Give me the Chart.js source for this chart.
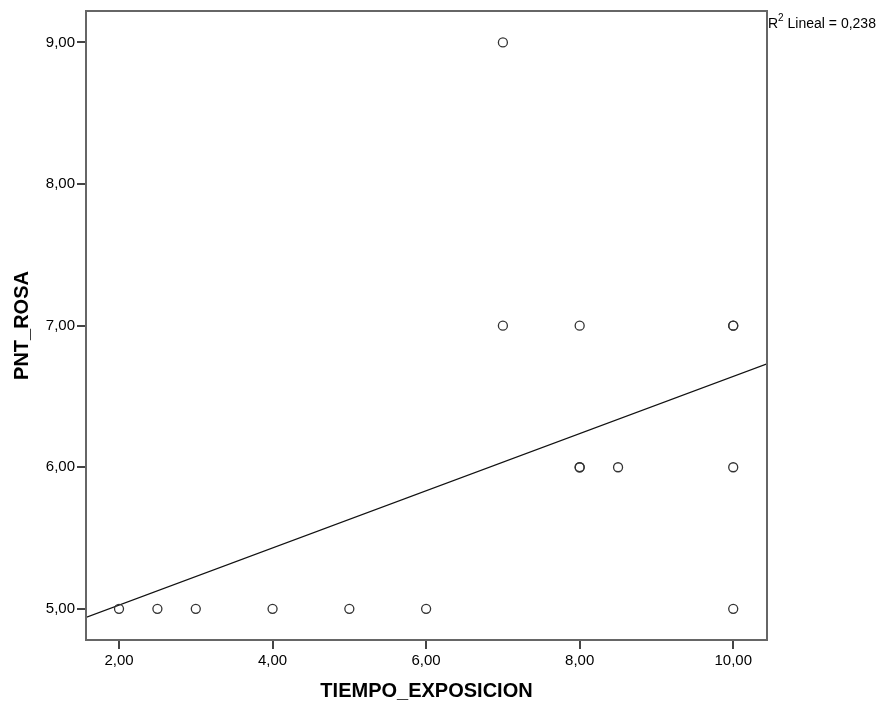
<!DOCTYPE html>
<html>
<head>
<meta charset="utf-8">
<script src="https://cdn.jsdelivr.net/npm/chart.js@4.4.1/dist/chart.umd.min.js"></script>
<style>
  html, body { margin: 0; padding: 0; background: #fff; }
  #wrap { width: 891px; height: 709px; }
</style>
</head>
<body>
<div id="wrap"><canvas id="chart" width="891" height="709"></canvas></div>
<script>
// observations (duplicates at 8/6 and 10/7 show up as darker rings)
const tiempo = [2, 2.5, 3, 4, 5, 6, 7, 7, 8, 8, 8, 8.5, 10, 10, 10, 10];
const pntRosa = [5, 5, 5, 5, 5, 5, 9, 7, 7, 6, 6, 6, 7, 7, 6, 5];

// fit line end points
const fitX = [1.57, 10.44];
const fitY = [4.94, 6.73];

const xTicks = [2, 4, 6, 8, 10];
const yTicks = [5, 6, 7, 8, 9];
const r2Label = '0,238';

const fmt = v => v.toFixed(2).replace('.', ',');
const font = 'Arial, "Liberation Sans", sans-serif';

const points = tiempo.map((x, i) => ({x: x, y: pntRosa[i]}));
const fitPoints = fitX.map((x, i) => ({x: x, y: fitY[i]}));

const framePlugin = {
    id: 'frame',
    afterDraw(chart) {
        const {ctx, chartArea: a} = chart;
        ctx.save();
        ctx.strokeStyle = '#666';
        ctx.lineWidth = 2;
        ctx.strokeRect(a.left, a.top, a.right - a.left, a.bottom - a.top);

        // R2 label at the top right
        ctx.fillStyle = '#000';
        ctx.textBaseline = 'alphabetic';
        ctx.textAlign = 'left';
        let x = a.right + 1;
        ctx.font = '14px ' + font;
        ctx.fillText('R', x, 28);
        x += ctx.measureText('R').width;
        ctx.font = '10px ' + font;
        ctx.fillText('2', x, 21);
        x += ctx.measureText('2').width;
        ctx.font = '14px ' + font;
        ctx.fillText(' Lineal = ' + r2Label, x, 28);
        ctx.restore();
    }
};

new Chart(document.getElementById('chart'), {
    type: 'scatter',
    data: {
        datasets: [{
            data: points,
            pointRadius: 4.5,
            pointHoverRadius: 4.5,
            pointBorderWidth: 1.3,
            pointBorderColor: '#333',
            pointBackgroundColor: 'rgba(255,255,255,0)',
            order: 1
        }, {
            type: 'line',
            data: fitPoints,
            borderColor: '#111',
            borderWidth: 1.2,
            pointRadius: 0,
            fill: false,
            order: 2
        }]
    },
    options: {
        responsive: false,
        animation: false,
        layout: { padding: { top: 10, right: 124, left: 0, bottom: 0 } },
        plugins: { legend: { display: false }, tooltip: { enabled: false } },
        scales: {
            x: {
                type: 'linear',
                min: 1.57,
                max: 10.44,
                afterBuildTicks: s => { s.ticks = xTicks.map(v => ({value: v})); },
                afterFit: s => { s.height = 69; },
                grid: { drawOnChartArea: false, drawTicks: true, tickLength: 9, color: '#444', lineWidth: 2 },
                border: { display: false },
                ticks: { color: '#000', padding: 3, font: { family: font, size: 15 }, callback: v => fmt(v), maxRotation: 0 },
                title: { display: true, text: 'TIEMPO_EXPOSICION', color: '#000', padding: { top: 0, bottom: 6 }, font: { family: font, size: 20, weight: 'bold' } }
            },
            y: {
                type: 'linear',
                min: 4.78,
                max: 9.222,
                afterBuildTicks: s => { s.ticks = yTicks.map(v => ({value: v})); },
                afterFit: s => { s.width = 86; },
                grid: { drawOnChartArea: false, drawTicks: true, tickLength: 9, color: '#444', lineWidth: 2 },
                border: { display: false },
                ticks: { color: '#000', padding: 2, font: { family: font, size: 15 }, callback: v => fmt(v) },
                title: { display: true, text: 'PNT_ROSA', color: '#000', padding: { top: 10, bottom: 0 }, font: { family: font, size: 20, weight: 'bold' } }
            }
        }
    },
    plugins: [framePlugin]
});
</script>
</body>
</html>
